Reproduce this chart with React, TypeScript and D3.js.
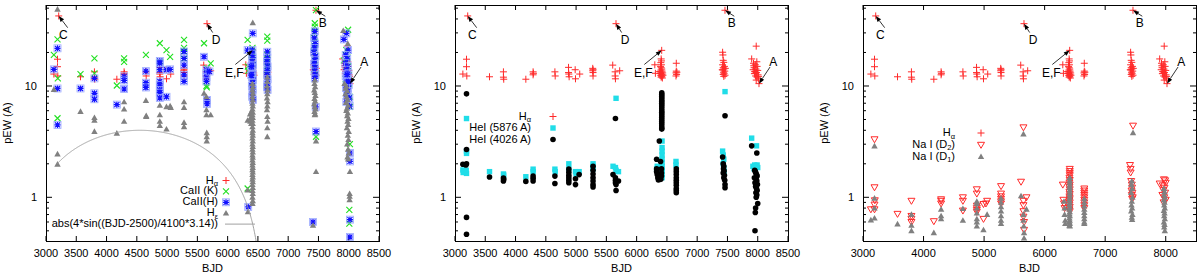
import React from "react";
import * as d3 from "d3";

// ---------------- DATA (BJD, pEW) ----------------
const H_ALPHA: [number, number][] = [
  [3130, 12.8], [3190, 17.4], [3190, 14.9], [3195, 12.3], [3210, 42.6],
  [3570, 12.1], [3800, 13.4], [3800, 12.0], [3805, 11.5], [4170, 11.5],
  [4290, 13.4], [4290, 12.6], [4295, 13.0], [4650, 13.4], [4655, 12.3],
  [4875, 14.7], [4880, 12.8], [4885, 12.1], [4875, 13.2], [4985, 14.0], [4990, 11.6],
  [5060, 12.8], [5275, 14.4], [5275, 13.7], [5280, 13.2], [5280, 12.3], [5280, 14.0],
  [5605, 15.4], [5645, 13.4], [5645, 12.3], [5650, 11.6], [5659, 36.3], [5720, 13.7],
  [6300, 15.5], [6310, 13.0],
  [6414, 20.9], [6405, 17.5], [6410, 16.8], [6400, 16.2], [6410, 15.5], [6395, 15.0], [6405, 14.6],
  [6415, 14.2], [6400, 13.9], [6420, 13.6], [6405, 13.3], [6395, 13.0], [6410, 12.8], [6420, 12.6],
  [6400, 12.4], [6415, 12.2], [6405, 12.0], [6425, 11.8], [6390, 12.9], [6380, 13.5], [6430, 13.1], [6435, 12.5],
  [6655, 16.0], [6655, 13.6], [6650, 13.1], [6660, 12.7], [6650, 12.3], [6665, 13.3],
  [7420, 20.1], [7425, 19.0], [7430, 17.0], [7440, 16.3], [7420, 15.5], [7450, 15.0], [7430, 14.6],
  [7440, 14.2], [7425, 13.9], [7455, 13.6], [7435, 13.3], [7445, 13.0], [7430, 12.7], [7460, 12.5],
  [7440, 12.2], [7459, 47.9], [7415, 14.0], [7465, 14.4],
  [7900, 17.5], [7975, 22.8], [7930, 16.0], [7960, 15.5], [7990, 15.0], [7940, 14.6], [7970, 14.2],
  [8000, 13.8], [7950, 13.5], [7980, 13.2], [7945, 12.9], [8005, 12.6], [7965, 12.3], [7990, 12.0],
  [8010, 11.6], [7975, 11.3], [8021, 10.5], [7925, 14.0], [7955, 13.0], [8015, 12.2], [7985, 16.5], [7935, 15.2],
];

const CA_K: [number, number][] = [
  [3130, 19], [3190, 26.2], [3195, 11.7], [3190, 5.13], [3570, 12.8], [3800, 17.7], [3800, 13.0],
  [4170, 10.1], [4290, 17.7], [4290, 16.5], [4650, 19], [4880, 24.2], [4885, 16.5], [4990, 21],
  [5050, 18.3], [5280, 25.9], [5280, 22], [5280, 20.5], [5280, 17.5], [5610, 24.2], [5650, 10.0],
  [5655, 9.7], [5720, 16], [5660, 14.5],
  [6330, 26], [6335, 14.9], [6340, 13.7], [6330, 1.2],
  [6410, 22], [6415, 20], [6405, 18.5], [6420, 17], [6410, 15.8], [6400, 14.5], [6415, 13.5],
  [6405, 12.5], [6420, 11.8], [6410, 11], [6395, 19],
  [6655, 27.7], [6655, 25.6], [6655, 19], [6655, 17.5], [6660, 16], [6650, 15], [6655, 13.8], [6660, 12.8],
  [7459, 48], [7440, 36.6], [7440, 34.2], [7430, 30], [7435, 27], [7445, 25], [7425, 23], [7440, 21.5],
  [7430, 20], [7450, 18.5], [7435, 17], [7445, 15.5], [7430, 14], [7460, 13], [7460, 3.5],
  [7990, 32], [7920, 17], [7960, 21], [7950, 19], [7980, 18], [7970, 16.5], [7990, 15], [7965, 13.5],
  [8000, 12.5], [7950, 11.5], [8000, 10.5], [8020, 8], [8020, 3.0], [8010, 0.77], [8010, 0.58], [8020, 6.5],
];

const CA_H: [number, number][] = [
  [3130, 14.1], [3190, 21.8], [3190, 9.5], [3190, 4.47], [3570, 9.5], [3800, 11.7], [3800, 8.6],
  [3800, 7.6], [4170, 6.8], [4290, 12.2], [4290, 11.2], [4290, 9.4], [4650, 13.6], [4650, 10.7],
  [4650, 9.7], [4880, 16.8], [4880, 16], [4880, 14], [4880, 11], [4880, 10.2], [4880, 9.2], [4880, 8.7],
  [4880, 7.8], [4990, 14], [4990, 8.0], [5050, 14.1], [5280, 20.4], [5280, 17.7], [5280, 15.4],
  [5280, 12.6], [5280, 11], [5610, 18.3], [5650, 14], [5650, 13], [5650, 12], [5650, 11], [5660, 7.5],
  [5660, 6.9], [5700, 13.5], [6330, 21], [6340, 0.82],
  [6415, 29.7], [6410, 21], [6400, 19.5], [6415, 18], [6405, 16.5], [6420, 15.5], [6410, 14.5],
  [6400, 13.5], [6415, 12.8], [6405, 12], [6420, 11.3], [6410, 10.6], [6400, 10], [6415, 9.3],
  [6410, 8.6], [6405, 8], [6420, 7.5], [6390, 12.5], [6390, 15],
  [6655, 20.3], [6655, 18], [6650, 16.5], [6660, 15], [6655, 13.8], [6650, 12.6], [6660, 11.5],
  [6655, 10.5], [6650, 9.8], [6660, 9.2],
  [7440, 31], [7430, 27], [7445, 24], [7435, 22], [7425, 20], [7450, 18.5], [7440, 17], [7430, 15.8],
  [7445, 14.6], [7435, 13.5], [7450, 12.6], [7440, 11.7], [7455, 6.5], [7460, 3.9], [7410, 0.6],
  [7960, 29.7], [7920, 26.2], [7990, 21], [7950, 19], [7975, 17.5], [7945, 16], [7985, 15], [7960, 14],
  [7995, 13], [7950, 12.3], [7980, 11.5], [7965, 10.8], [8000, 10.2], [7955, 9.6], [7990, 9],
  [7970, 8.4], [8010, 7.8], [7960, 7.2], [8015, 6.6], [8020, 2.5], [8020, 2.1], [8020, 0.63],
  [8020, 0.44], [7995, 11], [7975, 12.7],
];

const H_EPS: [number, number][] = [
  [3130, 9.3], [3190, 48.9], [3190, 2.45], [3190, 1.98], [3570, 5.9], [3800, 5.2], [3800, 4.9],
  [3800, 3.9], [4170, 3.76], [4290, 7.2], [4290, 6.2], [4290, 4.8], [4650, 7.4], [4655, 5.4],
  [4655, 5.3], [4880, 6.7], [4880, 5.5], [4880, 4.8], [4880, 4.4], [4990, 6.5], [4990, 4.1],
  [5050, 6.6], [5060, 6.4], [5280, 7.2], [5280, 6.4], [5280, 4.7], [5280, 4.3], [5610, 8.6],
  [5650, 8.0], [5650, 6.1], [5650, 5.5], [5720, 5.5], [5655, 3.8], [5655, 3.5], [5655, 3.2],
  [6330, 4.9], [6330, 1.16], [6335, 0.74],
  [6415, 37], [6410, 10.5], [6415, 9.8], [6410, 9.2], [6415, 8.6], [6410, 8.0], [6415, 7.5], [6410, 7.0],
  [6415, 6.6], [6410, 6.2], [6415, 5.8], [6410, 5.5], [6415, 5.2], [6410, 4.9], [6415, 4.6], [6410, 4.3],
  [6415, 4.0], [6410, 3.8], [6415, 3.6], [6410, 3.4], [6415, 3.2], [6410, 3.0], [6415, 2.85], [6410, 2.7],
  [6415, 2.55], [6410, 2.4], [6415, 2.28], [6410, 2.16], [6415, 2.05], [6410, 1.95], [6415, 1.85],
  [6410, 1.76], [6415, 1.68], [6410, 1.6], [6415, 1.52], [6410, 1.45], [6415, 1.38], [6410, 1.3],
  [6415, 1.22], [6410, 1.15], [6415, 1.08], [6410, 1.0], [6415, 0.93], [6410, 0.88],
  [6370, 5.6], [6380, 5.2], [6375, 4.8], [6390, 4.6], [6395, 5.9],
  [6655, 12], [6655, 11], [6650, 10], [6660, 9.2], [6655, 8.5], [6650, 7.8], [6660, 7.2], [6655, 6.6],
  [6650, 6.1], [6655, 5.3], [6660, 4.8], [6655, 4.2], [6655, 3.5],
  [7440, 11.3], [7435, 10.5], [7445, 9.8], [7430, 9.2], [7440, 8.7], [7450, 8.2], [7435, 7.7],
  [7445, 7.3], [7430, 6.9], [7440, 6.5], [7450, 6.2], [7435, 5.9], [7445, 5.6], [7440, 5.5],
  [7460, 3.2], [7460, 1.7], [7410, 0.56],
  [7910, 31.4], [7985, 24], [7930, 10.5], [7960, 10], [7950, 9.5], [7975, 9], [7945, 8.5], [7965, 8],
  [7980, 7.5], [7955, 7.1], [7990, 6.7], [7970, 6.3], [7960, 6.0], [7985, 5.7], [7975, 5.4], [7995, 5.1],
  [7980, 4.8], [7990, 4.5], [7970, 4.2], [8000, 3.9], [7985, 3.6], [7995, 3.3], [7975, 3.0], [7990, 2.7],
  [8000, 2.5], [7980, 2.3], [7990, 2.2], [8020, 1.7], [8015, 1.08], [8015, 1.02], [8015, 0.95],
];

const HEI_5876: [number, number][] = [
  [3130, 1.76], [3135, 1.67], [3190, 5.1], [3190, 2.48], [3190, 2.6], [3190, 1.64], [3185, 1.75],
  [3570, 1.7], [3800, 1.62], [3805, 1.58], [4170, 1.53], [4290, 1.79], [4290, 1.7], [4650, 1.79],
  [4655, 1.7], [4880, 2.0], [4880, 1.8], [4990, 1.7], [5050, 1.7], [5000, 1.62], [5280, 2.0],
  [5280, 1.9], [5280, 1.8], [5610, 1.9], [5650, 1.85], [5660, 1.75], [5700, 1.7], [5660, 7.75],
  [6330, 1.8], [6340, 1.9], [6420, 3.2], [6420, 2.8], [6420, 2.6], [6420, 2.4], [6420, 2.2],
  [6420, 2.05], [6420, 1.9], [6420, 1.8], [6420, 1.7], [6420, 1.6], [6420, 1.5],
  [6650, 2.1], [6650, 1.95],
  [7420, 2.6], [7430, 2.4], [7440, 2.2], [7430, 2.0], [7440, 1.85], [7445, 1.7], [7460, 8.9],
  [7900, 3.4], [7980, 2.9], [7920, 1.9], [7950, 1.95], [7970, 1.9], [7990, 1.95], [8000, 1.85], [7940, 1.8],
];

const HEI_4026: [number, number][] = [
  [3130, 1.98], [3190, 8.5], [3190, 2.69], [3190, 2.0], [3180, 1.95], [3190, 0.66], [3190, 0.466],
  [3570, 1.52], [3800, 1.49], [3800, 1.4], [3805, 1.45], [4170, 1.39], [4290, 1.55], [4290, 1.4],
  [4290, 1.48], [4650, 1.55], [4650, 1.33], [4880, 1.79], [4880, 1.68], [4880, 1.58], [4880, 1.5],
  [4880, 1.42], [4880, 1.35], [4990, 1.47], [4990, 1.3], [5050, 1.6], [5280, 1.9], [5280, 1.75],
  [5280, 1.62], [5280, 1.5], [5280, 1.4], [5280, 1.3], [5280, 1.24], [5610, 1.6], [5650, 1.5],
  [5650, 1.42], [5650, 1.35], [5660, 1.3], [5660, 1.15], [5700, 1.4], [5650, 5.1],
  [6330, 2.2], [6330, 1.8], [6330, 1.7], [6340, 1.6], [6350, 1.5], [6360, 1.43], [6375, 3.2],
  [6415, 8.7], [6415, 8.4], [6415, 8.1], [6415, 7.8], [6415, 7.5], [6415, 7.25], [6415, 7.0],
  [6415, 6.75], [6415, 6.5], [6415, 6.25], [6415, 6.0], [6415, 5.8], [6415, 5.6], [6415, 5.4],
  [6415, 5.2], [6415, 5.0], [6415, 4.8], [6415, 4.6], [6415, 4.4], [6415, 4.2], [6415, 4.1],
  [6410, 1.8], [6410, 1.65], [6410, 1.55], [6400, 1.45], [6395, 2.1],
  [6655, 1.8], [6655, 1.7], [6655, 1.6], [6655, 1.5], [6655, 1.42], [6655, 1.35], [6655, 1.28],
  [6655, 1.2], [6655, 1.15], [6655, 1.1],
  [7460, 5.4], [7420, 2.3], [7430, 2.0], [7440, 1.9], [7435, 1.8], [7445, 1.72], [7430, 1.65],
  [7450, 1.58], [7440, 1.5], [7455, 1.42], [7460, 1.3], [7460, 1.22],
  [7900, 2.9], [7985, 2.5], [7950, 1.75], [7960, 1.7], [7970, 1.65], [7980, 1.6], [7990, 1.55],
  [7945, 1.5], [7975, 1.45], [7985, 1.4], [7955, 1.35], [7995, 1.3], [7965, 1.25], [7980, 1.2],
  [7990, 1.15], [7970, 1.1], [7985, 1.05], [7975, 1.0], [8000, 0.88], [7965, 0.8], [7960, 0.73], [7955, 0.5],
];

const NA_D2: [number, number][] = [
  [3130, 0.78], [3190, 3.32], [3190, 1.23], [3195, 0.94], [3190, 0.86], [3190, 0.78],
  [3570, 0.71], [3800, 0.93], [3800, 0.68], [3800, 0.64], [3800, 0.6], [4170, 0.61], [4290, 0.96],
  [4290, 0.93], [4290, 0.88], [4650, 1.0], [4650, 0.93], [4650, 0.76], [4880, 1.18], [4880, 1.08],
  [4880, 0.84], [4880, 0.8], [4880, 0.77], [4880, 0.74], [4990, 0.87], [4990, 0.64], [5050, 0.93],
  [5030, 0.88], [5280, 1.26], [5280, 1.08], [5280, 1.02], [5280, 0.97], [5280, 0.92], [5280, 0.88],
  [5610, 1.38], [5650, 4.25], [5650, 0.93], [5650, 0.85], [5650, 0.75], [5650, 0.67], [5660, 0.6],
  [5660, 0.51], [5700, 1.0],
  [6300, 1.3], [6310, 0.95], [6320, 0.88], [6330, 0.8],
  [6415, 1.8], [6415, 1.72], [6415, 1.65], [6415, 1.58], [6410, 1.5], [6415, 1.43], [6410, 1.36],
  [6415, 1.3], [6410, 1.24], [6415, 1.18], [6410, 1.12], [6415, 1.07], [6410, 1.02], [6415, 0.98],
  [6410, 0.94], [6415, 0.9], [6410, 0.86], [6415, 0.82], [6410, 0.78], [6415, 0.75],
  [6655, 1.2], [6655, 1.15], [6655, 1.1], [6655, 1.05], [6655, 1.0], [6655, 0.95], [6655, 0.9],
  [6655, 0.85], [6655, 0.8],
  [7410, 1.95], [7420, 1.8], [7420, 1.67], [7430, 1.4], [7440, 1.3], [7445, 1.22], [7435, 1.15],
  [7450, 1.1], [7440, 1.05], [7455, 1.0], [7445, 0.97], [7460, 4.4],
  [7900, 1.33], [7970, 1.45], [7990, 1.42], [8000, 1.35], [7950, 1.28], [7980, 1.22], [7960, 1.16],
  [7990, 1.1], [7945, 1.05], [7975, 1.0], [8000, 0.95], [7965, 0.9],
];

const NA_D1: [number, number][] = [
  [3130, 0.625], [3190, 2.89], [3190, 0.98], [3190, 0.8], [3190, 0.65],
  [3570, 0.575], [3800, 0.7], [3800, 0.56], [3800, 0.5], [4170, 0.48], [4290, 0.78], [4290, 0.68],
  [4290, 0.64], [4650, 0.79], [4650, 0.62], [4880, 0.92], [4880, 0.88], [4880, 0.8], [4880, 0.72],
  [4880, 0.64], [4880, 0.6], [4880, 0.55], [4990, 0.51], [5050, 0.7], [5280, 0.98], [5280, 0.9],
  [5280, 0.82], [5280, 0.75], [5280, 0.68], [5280, 0.62], [5280, 0.58], [5610, 1.03], [5650, 3.7],
  [5650, 0.7], [5650, 0.62], [5655, 0.55], [5660, 0.48], [5660, 0.43], [5700, 0.78],
  [6320, 0.92], [6330, 0.8], [6330, 0.7], [6340, 0.62], [6340, 0.58],
  [6415, 1.5], [6415, 1.42], [6415, 1.35], [6415, 1.28], [6415, 1.22], [6415, 1.16], [6415, 1.1],
  [6415, 1.05], [6415, 1.0], [6410, 0.95], [6415, 0.9], [6410, 0.86], [6415, 0.82], [6410, 0.78],
  [6415, 0.74], [6410, 0.71], [6415, 0.68], [6410, 0.65], [6415, 0.62], [6410, 0.6], [6415, 0.58],
  [6410, 0.56], [6415, 0.55],
  [6655, 0.97], [6655, 0.9], [6655, 0.84], [6655, 0.78], [6655, 0.73], [6655, 0.68], [6655, 0.64],
  [6655, 0.6], [6655, 0.58],
  [7460, 3.8], [7440, 1.4], [7435, 1.3], [7445, 1.2], [7430, 1.1], [7450, 1.0], [7440, 0.92],
  [7435, 0.85], [7445, 0.8], [7430, 0.75], [7450, 0.7], [7440, 0.66], [7445, 0.63],
  [7970, 1.2], [7980, 1.12], [7975, 1.05], [7985, 1.0], [7970, 0.95], [7980, 0.9], [7975, 0.85],
  [7985, 0.8], [7970, 0.76], [7980, 0.72], [7975, 0.68], [7985, 0.64], [7970, 0.6], [7980, 0.57],
  [7975, 0.54], [7985, 0.5],
];

// annotation arrows: label, head (BJD,pEW), tail, text position
const ANNOT_LABELS = ["C", "D", "B", "E,F", "A"];
const ANNOT_HEAD: [number, number][] = [[3210, 42.6], [5659, 36.3], [7459, 47.9], [6414, 20.9], [8021, 10.5]];
const ANNOT_TAIL: [number, number][] = [[3358, 33.4], [5753, 30.2], [7613, 42.3], [6127, 15.6], [8203, 14.8]];
const ANNOT_TEXT: [number, number][] = [[3286, 29.1], [5808, 26.2], [7570, 36.8], [6110, 13.3], [8257, 16.6]];

const X_TICKS_A = [3000, 3500, 4000, 4500, 5000, 5500, 6000, 6500, 7000, 7500, 8000, 8500];
const X_TICKS_B = [3000, 4000, 5000, 6000, 7000, 8000];
const Y_LABELLED = [1, 10];
const Y_MINOR = [0.5, 0.6, 0.7, 0.8, 0.9, 2, 3, 4, 5, 6, 7, 8, 9, 20, 30, 40, 50];

// ---------------- LAYOUT / STYLE ----------------
const FONT = "'Liberation Sans', Arial, Helvetica, sans-serif";
const TOP = 5;
const BOTTOM = 241;
const PW = 333;
const LEFTS = [46, 455, 863];

const RED = "#ff2a2a";
const GREEN = "#22e022";
const BLUE = "#1010ff";
const GRAY = "#808080";
const CYAN = "#20dde8";

type MType = "plus" | "cross" | "star" | "tri" | "tridown" | "square" | "circle";

function Marker({ t, x, y }: { t: MType; x: number; y: number }) {
  const s = 3.5;
  if (t === "plus")
    return <path d={`M${x - s},${y}H${x + s}M${x},${y - s}V${y + s}`} stroke={RED} strokeWidth={1} fill="none" />;
  if (t === "cross")
    return <path d={`M${x - 3},${y - 3}L${x + 3},${y + 3}M${x - 3},${y + 3}L${x + 3},${y - 3}`} stroke={GREEN} strokeWidth={1.1} fill="none" />;
  if (t === "star")
    return (
      <g>
        <rect x={x - 3.5} y={y - 3.5} width={7} height={7} fill="none" stroke="#9aa8ff" strokeWidth={0.8} />
        <path d={`M${x - 3},${y}H${x + 3}M${x},${y - 3}V${y + 3}M${x - 2.5},${y - 2.5}L${x + 2.5},${y + 2.5}M${x - 2.5},${y + 2.5}L${x + 2.5},${y - 2.5}`} stroke={BLUE} strokeWidth={1.2} fill="none" />
      </g>
    );
  if (t === "tri")
    return <path d={`M${x},${y - 3.2}L${x + 3.2},${y + 2.4}L${x - 3.2},${y + 2.4}Z`} fill={GRAY} />;
  if (t === "tridown")
    return <path d={`M${x - 3.5},${y - 2.5}L${x + 3.5},${y - 2.5}L${x},${y + 3.5}Z`} fill="none" stroke={RED} strokeWidth={1} />;
  if (t === "square")
    return <rect x={x - 2.7} y={y - 2.7} width={5.4} height={5.4} fill={CYAN} />;
  return <circle cx={x} cy={y} r={2.8} fill="#000" />;
}

type Series = { data: [number, number][]; t: MType };
type LegendRow = { label: React.ReactNode; t: MType | "line" };

function Sub({ base, sub, after }: { base: string; sub: string; after?: string }) {
  return (
    <>
      {base}
      <tspan fontSize={7.5} dy={2.5}>{sub}</tspan>
      {after ? <tspan dy={-2.5}>{after}</tspan> : null}
    </>
  );
}

function Panel({
  idx, xTicks, series, legend, legendTextX, legendMarkX, legendY, legendStep, curve,
}: {
  idx: number; xTicks: number[]; series: Series[]; legend: LegendRow[];
  legendTextX: number; legendMarkX: number; legendY: number; legendStep: number; curve?: boolean;
}) {
  const left = LEFTS[idx];
  const right = left + PW;
  const x = d3.scaleLinear().domain([3000, 8500]).range([left, right]);
  const y = d3.scaleLog().domain([0.405, 53.4]).range([BOTTOM, TOP]);
  const clipId = `clip${idx}`;

  let curvePath = "";
  if (curve) {
    const pts = d3.range(3190, 6700, 5).map((b) => [b, Math.max(1e-3, Math.abs(4 * Math.sin(((b - 2500) / 4100) * 3.14)))] as [number, number]);
    curvePath = d3.line<[number, number]>().x((d) => x(d[0])).y((d) => y(d[1]))(pts) || "";
  }

  return (
    <g>
      <defs>
        <clipPath id={clipId}>
          <rect x={left} y={TOP} width={PW} height={BOTTOM - TOP} />
        </clipPath>
      </defs>
      {/* ticks */}
      {xTicks.map((t) => (
        <g key={"xt" + t}>
          <line x1={x(t)} x2={x(t)} y1={BOTTOM} y2={BOTTOM - 5} stroke="#000" />
          <line x1={x(t)} x2={x(t)} y1={TOP} y2={TOP + 5} stroke="#000" />
          <text x={x(t)} y={257} textAnchor="middle" fontSize={11} fontFamily={FONT} fill="#000">{t}</text>
        </g>
      ))}
      {Y_LABELLED.map((v) => (
        <g key={"yl" + v}>
          <line x1={left} x2={left + 6} y1={y(v)} y2={y(v)} stroke="#000" />
          <line x1={right} x2={right - 6} y1={y(v)} y2={y(v)} stroke="#000" />
          <text x={left - 9} y={y(v) + 4} textAnchor="end" fontSize={11} fontFamily={FONT} fill="#000">{v}</text>
        </g>
      ))}
      {Y_MINOR.map((v) => (
        <g key={"ym" + v}>
          <line x1={left} x2={left + 3} y1={y(v)} y2={y(v)} stroke="#000" />
          <line x1={right} x2={right - 3} y1={y(v)} y2={y(v)} stroke="#000" />
        </g>
      ))}
      {/* axis titles */}
      <text x={(left + right) / 2} y={272} textAnchor="middle" fontSize={11} fontFamily={FONT} fill="#000">BJD</text>
      <text transform={`translate(${left - 35},${(TOP + BOTTOM) / 2}) rotate(-90)`} textAnchor="middle" fontSize={11} fontFamily={FONT} fill="#000">pEW (A)</text>

      {/* data */}
      <g clipPath={`url(#${clipId})`}>
        {series.map((s, si) => (
          <g key={"s" + si}>
            {s.data.map((d, i) => (
              <Marker key={i} t={s.t} x={x(d[0])} y={y(d[1])} />
            ))}
          </g>
        ))}
        {curve ? <path d={curvePath} fill="none" stroke="#a0a0a0" strokeWidth={1} /> : null}
      </g>

      {/* legend */}
      {legend.map((r, i) => {
        const ly = legendY + i * legendStep;
        return (
          <g key={"lg" + i}>
            <text x={left + legendTextX} y={ly + 3} textAnchor="end" fontSize={11} fontFamily={FONT} fill="#000">{r.label}</text>
            {r.t === "line" ? (
              <line x1={left + legendMarkX - 1} x2={left + legendMarkX + 29} y1={ly} y2={ly} stroke="#a0a0a0" />
            ) : (
              <Marker t={r.t} x={left + legendMarkX} y={ly} />
            )}
          </g>
        );
      })}

      {/* annotations */}
      {ANNOT_LABELS.map((lab, i) => {
        const hx = x(ANNOT_HEAD[i][0]);
        const hy = y(ANNOT_HEAD[i][1]);
        const tx = x(ANNOT_TAIL[i][0]);
        const ty = y(ANNOT_TAIL[i][1]);
        const ang = Math.atan2(hy - ty, hx - tx);
        const L = 6, Wd = 2.2;
        const bx = hx - L * Math.cos(ang), by = hy - L * Math.sin(ang);
        const p1 = [bx + Wd * Math.sin(ang), by - Wd * Math.cos(ang)];
        const p2 = [bx - Wd * Math.sin(ang), by + Wd * Math.cos(ang)];
        return (
          <g key={"an" + i}>
            <line x1={tx} y1={ty} x2={bx} y2={by} stroke="#000" strokeWidth={0.8} />
            <path d={`M${hx},${hy}L${p1[0]},${p1[1]}L${p2[0]},${p2[1]}Z`} fill="#000" />
            <text x={x(ANNOT_TEXT[i][0])} y={y(ANNOT_TEXT[i][1]) + 4.5} textAnchor="middle" fontSize={12} fontFamily={FONT} fill="#000">{lab}</text>
          </g>
        );
      })}

      {/* frame */}
      <rect x={left + 0.5} y={TOP + 0.5} width={PW} height={BOTTOM - TOP} fill="none" stroke="#000" strokeWidth={1} />
    </g>
  );
}

export default function App() {
  return (
    <svg width={1200} height={277} style={{ display: "block", position: "absolute", left: 0, top: 0, background: "#fff" }}>
      <rect width={1200} height={277} fill="#fff" />
      <Panel
        idx={0}
        xTicks={X_TICKS_A}
        series={[
          { data: H_ALPHA, t: "plus" },
          { data: CA_K, t: "cross" },
          { data: CA_H, t: "star" },
          { data: H_EPS, t: "tri" },
        ]}
        legend={[
          { label: <Sub base="H" sub="α" />, t: "plus" },
          { label: "CaII (K)", t: "cross" },
          { label: "CaII(H)", t: "star" },
          { label: <Sub base="H" sub="ε" />, t: "tri" },
          { label: "abs(4*sin((BJD-2500)/4100*3.14))", t: "line" },
        ]}
        legendTextX={172}
        legendMarkX={180}
        legendY={180.5}
        legendStep={10.9}
        curve
      />
      <Panel
        idx={1}
        xTicks={X_TICKS_A}
        series={[
          { data: H_ALPHA, t: "plus" },
          { data: HEI_5876, t: "square" },
          { data: HEI_4026, t: "circle" },
        ]}
        legend={[
          { label: <Sub base="H" sub="α" />, t: "plus" },
          { label: "HeI (5876 A)", t: "square" },
          { label: "HeI (4026 A)", t: "circle" },
        ]}
        legendTextX={76}
        legendMarkX={98}
        legendY={116.5}
        legendStep={11.5}
      />
      <Panel
        idx={2}
        xTicks={X_TICKS_B}
        series={[
          { data: H_ALPHA, t: "plus" },
          { data: NA_D2, t: "tridown" },
          { data: NA_D1, t: "tri" },
        ]}
        legend={[
          { label: <Sub base="H" sub="α" />, t: "plus" },
          { label: <Sub base="Na I (D" sub="2" after=")" />, t: "tridown" },
          { label: <Sub base="Na I (D" sub="1" after=")" />, t: "tri" },
        ]}
        legendTextX={92}
        legendMarkX={118}
        legendY={133}
        legendStep={11.8}
      />
    </svg>
  );
}
